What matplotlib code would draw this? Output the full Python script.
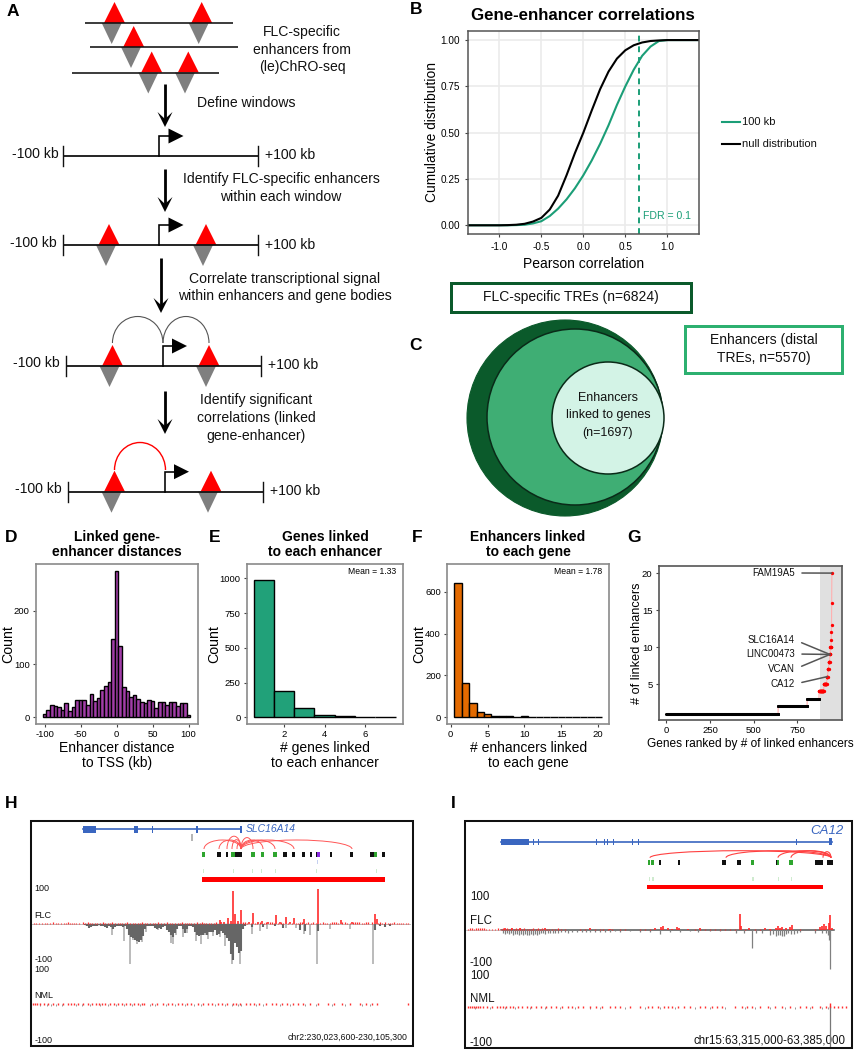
import numpy as np
import matplotlib
matplotlib.use("Agg")
import matplotlib.pyplot as plt
from matplotlib.patches import Arc, Circle, Polygon, Rectangle
from matplotlib.lines import Line2D

plt.rcParams['font.family'] = ['Liberation Sans', 'DejaVu Sans']
plt.rcParams['axes.unicode_minus'] = False

W, H = 856, 1050
PX = 0.72

# ---------- panel B ----------
corr_x = [-1.4,-1.3,-1.2,-1.1,-1.0,-0.9,-0.8,-0.7,-0.6,-0.5,-0.4,-0.3,-0.2,-0.1,0.0,0.1,0.2,0.3,0.4,0.5,0.6,0.7,0.8,0.9,1.0,1.1,1.2,1.3,1.4]
cdf_null = [0,0,0,0,0,0.001,0.003,0.008,0.02,0.04,0.085,0.16,0.27,0.39,0.50,0.62,0.735,0.83,0.90,0.945,0.972,0.987,0.995,0.998,1,1,1,1,1]
cdf_100kb = [0,0,0,0,0,0,0.001,0.003,0.01,0.022,0.05,0.09,0.14,0.20,0.27,0.35,0.44,0.54,0.65,0.75,0.84,0.915,0.965,0.995,1,1,1,1,1]
fdr_cut = 0.66
b_xticks = [-1.0,-0.5,0.0,0.5,1.0]
b_yticks = [0,0.25,0.5,0.75,1.0]

# ---------- panels D, E, F ----------
dist_bins = [-100,-95,-90,-85,-80,-75,-70,-65,-60,-55,-50,-45,-40,-35,-30,-25,-20,-15,-10,-5,0,5,10,15,20,25,30,35,40,45,50,55,60,65,70,75,80,85,90,95,100]
dist_counts = [7,13,23,21,19,14,26,12,19,33,33,32,24,44,30,37,52,59,66,147,274,133,57,50,39,42,35,28,26,33,31,17,28,28,24,29,28,22,27,27,5]
genes_per_enh_x = [1,2,3,4,5,6,7]
genes_per_enh = [990,192,65,18,8,2,1]
enh_per_gene_x = list(range(1,21))
enh_per_gene = [640,166,68,27,17,6,5,6,3,5,1,1,1,0,0,1,0,0,0,1]

# ---------- panel G ----------
g_labels = ["FAM19A5","SLC16A14","LINC00473","VCAN","CA12"]
g_label_y = [573,640,654,669,684]
g_label_val = [20,9,9,9,6]

# ---------- panel H tracks ----------
h_dark_x = [85,87,89,91,93,95,97,99,101,103,105,107,109,111,113,115,117,119,121,123,125,127,129,131,133,135,137,139,141,143,145,147,149,151,153,155,157,159,161,163,165,167,169,171,173,175,177,179,181,183,185,187,189,191,193,195,197,199,201,203,205,207,209,211,213,215,217,219,221,223,225,227,229,231,233,235,237,239,241,243,245,252,263,275,283,300,305,318,375,380,385,390]
h_dark_v = [3,5,10,8,6,4,5,3,6,5,8,10,6,9,12,8,6,5,5,8,6,12,28,34,38,42,45,48,42,32,12,6,5,5,6,10,12,10,12,8,6,16,22,28,34,24,12,6,6,14,24,14,6,6,8,20,28,32,28,28,24,30,20,22,22,16,30,26,18,24,30,36,45,80,95,50,60,75,70,12,5,8,8,6,10,15,18,18,15,6,8,4]
h_light_x = [112,124,130,133,137,139,142,146,158,171,173,176,183,187,196,201,205,208,213,220,225,228,232,237,240,252,260,267,286,296,304,310,317,330,350,373]
h_light_v = [28,46,105,42,52,40,48,20,16,50,52,30,35,24,44,52,30,40,32,35,57,38,105,60,105,26,18,14,10,10,26,30,105,12,12,105]
h_red_x = [220,224,228,233,235,241,253,262,276,286,294,304,318,341,352,375,377,221,231,238,249,258,268,280,290]
h_red_v = [10,6,16,88,26,37,29,8,25,18,15,13,92,10,6,26,12,4,8,7,5,5,6,6,5]
h_noise_x = [34,36,39,42,45,47,50,53,56,58,61,64,66,68,70,72,74,76,79,83,85,88,90,92,95,97,100,103,105,108,110,112,115,118,120,122,125,127,130,133,135,138,140,142,145,147,150,153,155,158,161,164,167,170,172,175,178,180,182,185,187,189,191,194,197,200,202,204,206,209,211,214,216,243,245,247,251,255,257,260,264,266,270,272,274,278,281,283,288,292,296,298,300,302,306,308,311,313,316,320,323,325,327,330,332,334,336,338,342,345,347,350,353,355,357,359,362,364,366,368,372,378,380,382,385,388,390,392,394,397,399,401,403,406,408]
h_noise_v = [2,2,3,2,2,3,2,4,2,2,3,3,2,5,3,3,2,2,3,4,3,5,2,3,2,2,3,4,2,3,2,5,2,2,3,3,2,4,2,3,2,2,3,4,2,3,2,2,3,5,2,3,4,2,2,3,3,2,5,2,2,3,3,3,4,3,6,3,3,2,2,3,5,4,4,3,3,3,3,4,3,4,5,4,3,3,4,3,3,3,3,3,5,4,3,4,3,5,3,3,4,3,3,3,4,5,4,3,4,4,3,3,5,5,4,6,3,3,4,4,5,3,4,3,5,3,3,3,4,3,3,3,2,3,3]
h_gene_exons = [(83.3,12.7,7),(134.3,4,7),(152,1.5,7),(196,1.6,7),(240,1.6,7)]
h_arcs = [(204,241),(219,241),(227,241),(232,241),(237,241),(241,253),(241,263),(241,275),(241,294),(241,352)]
h_ticks_green = [(203.7,2.5),(232,2.5),(234,3),(253,3.5),(262.7,3.5),(275,4.5),(376,3)]
h_ticks_black = [(219,4),(227,2.5),(237,3.5),(240.7,3.5),(285,4),(293.7,3),(303.7,2.5),(311,1.5),(316.5,1.5),(331,1.5),(351.7,2.5),(371.7,3.5),(374,2.5),(384,3)]
h_light_ticks = [203.7,234,252.7,262,276,317,376.7]
h_nml_red = [33,35,37,40,44,48,53,58,63,68,71,74,78,83,88,92,96,99,102,105,110,114,118,122,126,130,134,138,142,144,152,157,163,168,172,178,182,187,191,198,203,208,212,218,222,227,233,236,240,246,250,254,259,266,272,276,282,287,293,298,303,310,318,328,334,342,350,360,366,372,377,408]
h_nml_grey = [40,47,51,56,62,76,82,90,100,108,116,124,132,140,150,155,166,175,185,194,201,215,225,232,238,241,256,263,280,290,305,316,332,345,362,370]

# ---------- panel I tracks ----------
i_red_x = [740,830,741,829,826,792,790,786,776,778,780,700,663,661,655,688,679,677,749,782,820,822,824,832,765,770,668,672,610,590,545,520,512,505]
i_red_v = [42,40,10,18,10,14,8,6,7,10,5,6,12,8,6,4,5,8,7,9,8,12,15,7,5,4,6,4,4,5,5,6,6,5]
i_noise_x = [468,470,472,474,476,478,480,482,484,486,489,492,495,498,501,503,505,507,509,511,514,516,518,520,522,524,527,529,531,533,536,538,540,542,545,547,549,552,555,558,561,565,570,575,580,585,590,595,600,603,608,612,620,625,632,640,645,650,695,700,705,710,715,720,725,730,735,745,755,760,770,800,808,815,838,842,846]
i_noise_v = [4,5,5,4,6,5,6,5,5,4,3,4,3,5,4,6,4,5,4,6,4,5,4,6,4,5,4,4,3,5,4,6,4,5,4,4,3,3,3,5,3,3,2,2,3,3,2,3,3,3,3,4,3,3,2,3,3,4,3,3,3,3,3,3,3,3,4,3,4,3,3,3,2,3,2,2,1]
i_grey_x = [752,830,829,828,826,503,505,507,509,511,513,515,517,519,521,523,525,527,529,531,533,535,537,539,541,543,545,548,550,553,555,558,561,565,568,572,577,582,586,590,595,600,605,610,615,620,630,640,650,660,670,680,690,698,710,720,736,744,756,762,770,773,776,778,780,782,784,786,788,791,794,797,800,815,822]
i_grey_v = [45,100,24,12,8,7,9,7,9,8,11,9,10,12,10,11,10,12,12,10,13,10,11,9,8,7,9,6,7,7,6,8,5,5,6,4,4,4,5,5,4,5,4,4,3,4,3,4,4,10,4,4,3,4,3,3,6,8,6,6,12,10,14,12,12,14,14,10,8,9,10,6,4,6,8]
i_gene_exons = [(501,28,6),(533,1,6),(538,1,6),(596,1,6),(604,1.5,6),(607,1.5,6),(613.5,1,6),(632,1,6),(638,1,6),(796,1,6),(829,3,7)]
i_arcs = [(650,831),(726,831),(778,831),(791,831),(823,831)]
i_ticks_green = [(649,2.5),(652.7,2.5),(752.3,3),(778.5,2),(791,3.5)]
i_ticks_black = [(659.7,2),(679.3,2),(724,3.5),(739,4),(777.5,3.5),(818,5.5),(821,3.5),(830,6)]
i_light_ticks = [649.7,653,753,778.7,791.7]
i_nml_red = [468,470,472,474,476,478,480,483,487,492,497,500,503,506,510,513,518,522,527,531,536,541,546,551,556,562,568,572,578,583,590,596,602,610,615,620,630,640,648,652,658,664,668,672,678,684,690,700,705,712,717,722,735,742,747,752,760,768,775,782,790,800,806,812,820,826,830,834,838,842,846]
i_nml_grey = [475,490,505,515,530,545,560,575,590,600,625,645,660,675,695,710,725,745,755,770,785,795,810,822,828]

fig = plt.figure(figsize=(W/100, H/100), dpi=100)
ov = fig.add_axes([0,0,1,1], zorder=0)
ov.set_xlim(0,W); ov.set_ylim(H,0); ov.axis('off')

def T(x,y,s,size=10.1,ha='center',va='center',**k):
    return ov.text(x,y,s,fontsize=size,ha=ha,va=va,color=k.pop('color','#111111'),**k)

def axpx(x0,y0,x1,y1,zorder=2):
    return fig.add_axes([x0/W,1-y1/H,(x1-x0)/W,(y1-y0)/H],zorder=zorder)

# ---------- panel letters ----------
for s,x,y in [('A',12.5,11),('B',416,10),('C',416,346),('D',11,537),('E',215,537),('F',417,537),('G',634,537),('H',11,804),('I',453,804)]:
    T(x,y,s,size=12.5,fontweight='bold',color='black')

# ---------- panel A ----------
def tri(xc,y0,kind):
    if kind=='r':
        ov.add_patch(Polygon([(xc-10.5,y0),(xc+10.5,y0),(xc,y0-21)],color='#FF0000',lw=0,zorder=2))
    else:
        ov.add_patch(Polygon([(xc-10,y0),(xc+10,y0),(xc,y0+21)],color='#7F7F7F',lw=0,zorder=2))

def hl(x0,x1,y,lw=1.6,c='#111111'):
    ov.add_line(Line2D([x0,x1],[y,y],color=c,lw=lw*PX*1.0,zorder=3,solid_capstyle='butt'))

def down_arrow(x,y0,y1):
    ov.add_line(Line2D([x,x],[y0,y1-6],color='black',lw=2.8*PX,solid_capstyle='butt',zorder=4))
    ov.add_patch(Polygon([(x,y1),(x-7.5,y1-15),(x,y1-8),(x+7.5,y1-15)],color='black',lw=0,zorder=4))

def tss(x,y0,ytop):
    ov.add_line(Line2D([x,x,x+10],[y0,ytop,ytop],color='black',lw=1.6*PX,solid_joinstyle='miter',zorder=4))
    ov.add_patch(Polygon([(x+9,ytop-7.5),(x+9,ytop+7.5),(x+24,ytop)],color='black',lw=0,zorder=4))

def row(x0,x1,y,xt,ytop,reds,lab_l,lab_r):
    hl(x0,x1,y,lw=1.8)
    for xx in (x0,x1):
        ov.add_line(Line2D([xx,xx],[y-10,y+10],color='#111111',lw=1.4*PX,zorder=3))
    tss(xt,y,ytop)
    for r in reds:
        tri(r,y,'r'); tri(r-3,y,'g')
    T(lab_l[0],lab_l[1],'-100 kb',ha='right')
    T(lab_r[0],lab_r[1],'+100 kb',ha='left')

tri(114.5,23,'r'); tri(201.7,23,'r'); tri(111.7,23,'g'); tri(198.7,23,'g'); hl(85.5,233,23)
tri(133.7,47,'r'); tri(131,47,'g'); hl(90,238,47)
tri(151.7,72.5,'r'); tri(188.3,72.5,'r'); tri(148.3,72.5,'g'); tri(185,72.5,'g'); hl(72,219.5,72.5)
T(302,32,'FLC-specific'); T(302,50,'enhancers from'); T(302,67,'(le)ChRO-seq')
down_arrow(165,84,127); T(246.6,103,'Define windows')
row(63,258,156,159.5,136,[],(59,154),(265,155))
down_arrow(165,169,212)
T(281,179,'Identify FLC-specific enhancers'); T(281,197,'within each window')
row(63,258,245,159.5,225,[109,206],(57,243),(265,245))
down_arrow(161,258,313)
T(285,279,'Correlate transcriptional signal'); T(285,296,'within enhancers and gene bodies')
row(65.7,261,366,163,346,[112.5,209],(60,363),(268,365))
ov.add_patch(Arc((137.7,343),50.5,53,theta1=180,theta2=360,color='#555555',lw=0.8,zorder=3))
ov.add_patch(Arc((186,343),46,53,theta1=180,theta2=360,color='#555555',lw=0.8,zorder=3))
down_arrow(165,391,434)
T(256.5,400,'Identify significant'); T(256.5,418,'correlations (linked'); T(256.5,436,'gene-enhancer)')
row(67.7,263,491.7,165,471.7,[114.5,211],(62,489),(270,491))
ov.add_patch(Arc((140,470),51,55,theta1=180,theta2=360,color='#FF0000',lw=1.0,zorder=3))

# ---------- panel B ----------
GREEN='#1B9E77'
axb = axpx(468,31,699,234)
axb.set_xlim(-1.373,1.377); axb.set_ylim(-0.047,1.049)
axb.grid(True,color='#EBEBEB',lw=1.2); axb.set_axisbelow(True)
axb.plot(corr_x,cdf_100kb,color=GREEN,lw=1.5)
axb.plot(corr_x,cdf_null,color='black',lw=1.5)
axb.axvline(fdr_cut,color=GREEN,lw=1.4,ls=(0,(3,2.5)))
axb.text(0.71,0.048,'FDR = 0.1',color=GREEN,fontsize=7.6,va='center',ha='left')
axb.set_xticks(b_xticks); axb.set_xticklabels(['-1.0','-0.5','0.0','0.5','1.0'])
axb.set_yticks(b_yticks); axb.set_yticklabels(['0.00','0.25','0.50','0.75','1.00'])
axb.tick_params(labelsize=7.2,length=2.5,width=0.8,color='#444444',pad=3)
for s in axb.spines.values(): s.set_color('#555555'); s.set_linewidth(1.1)
axb.set_xlabel('Pearson correlation',fontsize=10)
axb.xaxis.set_label_coords(0.5,-0.115)
axb.set_ylabel('Cumulative distribution',fontsize=9.9)
axb.yaxis.set_label_coords(-0.125,0.5)
T(583,15,'Gene-enhancer correlations',size=12.2,fontweight='bold',color='black')
ov.add_line(Line2D([722,740],[122,122],color=GREEN,lw=1.5))
ov.add_line(Line2D([722,740],[144,144],color='black',lw=1.5))
T(742,122,'100 kb',size=8,ha='left'); T(742,144,'null distribution',size=8,ha='left')

# ---------- panel C ----------
DK='#0B5A2B'; MID='#3FAE74'; LT='#D3F3E6'
ov.add_patch(Rectangle((451,283),240,29,fc='white',ec=DK,lw=3*PX))
T(571,297.5,'FLC-specific TREs (n=6824)',size=10)
ov.add_patch(Rectangle((685,326),157,47,fc='white',ec='#2DB070',lw=3*PX))
T(763.5,340,'Enhancers (distal',size=10); T(763.5,358,'TREs, n=5570)',size=10)
ov.add_patch(Circle((565,418),98,fc=DK,ec=DK,lw=0.8,zorder=1))
ov.add_patch(Circle((575,417),88,fc=MID,ec='#0A2A18',lw=1.1,zorder=1.1))
ov.add_patch(Circle((608,418),56,fc=LT,ec='#0A2A18',lw=1.1,zorder=1.2))
T(608,398,'Enhancers',size=9,zorder=5); T(608,415,'linked to genes',size=9,zorder=5); T(608,433,'(n=1697)',size=9,zorder=5)

# ---------- panels D E F G ----------
def style(ax):
    for s in ax.spines.values(): s.set_color('#8A8A8A'); s.set_linewidth(1.2)
    ax.tick_params(labelsize=6.8,length=2.5,width=0.8,color='#444444',pad=2)

TS = 10
axd = axpx(36,564,198,724)
axd.bar(dist_bins,dist_counts,width=5,color='#A23DA8',edgecolor='black',linewidth=1.0)
axd.set_xlim(-112,113); axd.set_ylim(-12.5,287.6)
axd.set_xticks([-100,-50,0,50,100]); axd.set_yticks([0,100,200]); style(axd)
axd.set_xlabel('Enhancer distance\nto TSS (kb)',fontsize=10,linespacing=1.14)
axd.xaxis.set_label_coords(0.5,-0.105)
axd.set_ylabel('Count',fontsize=10.2); axd.yaxis.set_label_coords(-0.13,0.5)
T(117,537,'Linked gene-',size=TS,fontweight='bold',color='black'); T(117,552,'enhancer distances',size=TS,fontweight='bold',color='black')

axe = axpx(247,564,403.3,724)
axe.bar(genes_per_enh_x,genes_per_enh,width=1,color='#21A179',edgecolor='black',linewidth=1.0)
axe.set_xlim(0.18,7.87); axe.set_ylim(-48,1103)
axe.set_xticks([2,4,6]); axe.set_yticks([0,250,500,750,1000]); style(axe)
axe.set_xlabel('# genes linked\nto each enhancer',fontsize=10,linespacing=1.14)
axe.xaxis.set_label_coords(0.5,-0.105)
axe.set_ylabel('Count',fontsize=10.2); axe.yaxis.set_label_coords(-0.166,0.5)
axe.text(0.957,0.955,'Mean = 1.33',transform=axe.transAxes,ha='right',va='center',fontsize=6.2)
T(325,537,'Genes linked',size=TS,fontweight='bold',color='black'); T(325,552,'to each enhancer',size=TS,fontweight='bold',color='black')

axf = axpx(447.3,564,609.3,724)
axf.bar(enh_per_gene_x,enh_per_gene,width=1,color='#E36A00',edgecolor='black',linewidth=1.0)
axf.set_xlim(-0.46,21.5); axf.set_ylim(-32,732)
axf.set_xticks([0,5,10,15,20]); axf.set_yticks([0,200,400,600]); style(axf)
axf.set_xlabel('# enhancers linked\nto each gene',fontsize=10,linespacing=1.14)
axf.xaxis.set_label_coords(0.5,-0.105)
axf.set_ylabel('Count',fontsize=10.2); axf.yaxis.set_label_coords(-0.132,0.5)
axf.text(0.957,0.955,'Mean = 1.78',transform=axf.transAxes,ha='right',va='center',fontsize=6.2)
T(528,537,'Enhancers linked',size=TS,fontweight='bold',color='black'); T(528,552,'to each gene',size=TS,fontweight='bold',color='black')

axg = axpx(658.7,565.7,842,720)
vals = np.repeat(enh_per_gene_x,enh_per_gene)
ranks = np.arange(len(vals))
axg.axvspan(880,1005,color='#E0E0E0',lw=0,zorder=0)
axg.plot(ranks,vals,color='#FFB0B0',lw=0.8,zorder=1)
is_top = vals>=4
axg.plot(ranks[~is_top],vals[~is_top],ls='none',marker='o',ms=2.2,mew=0,color='black',zorder=2)
axg.plot(ranks[is_top],vals[is_top],ls='none',marker='o',ms=2.4,mew=0,color='#FF0000',zorder=3)
axg.set_xlim(-44,1005); axg.set_ylim(0.135,21)
axg.set_xticks([0,250,500,750]); axg.set_yticks([5,10,15,20]); style(axg)
for s in axg.spines.values(): s.set_color('#555555')
axg.set_xlabel('Genes ranked by # of linked enhancers',fontsize=8.6)
axg.xaxis.set_label_coords(0.5,-0.117)
axg.set_ylabel('# of linked enhancers',fontsize=9.2); axg.yaxis.set_label_coords(-0.085,0.5)
for lab,py,v in zip(g_labels,g_label_y,g_label_val):
    xv = ranks[vals==v].mean()
    axg.annotate(lab,xy=(xv,v),xycoords='data',xytext=(795,H-py),textcoords='figure pixels',
                 ha='right',va='center',fontsize=7.0,color='#111111',
                 arrowprops=dict(arrowstyle='-',color='#555555',lw=1.1,shrinkA=3,shrinkB=0,relpos=(1,0.5)),zorder=5)

# ---------- genome browser panels ----------
BLUE='#3A66C0'
def track_ax(x0,x1,y0,y1,zero_px,unit):
    ax = axpx(x0,y0,x1,y1,zorder=3)
    ax.set_xlim(x0,x1)
    ax.set_ylim((zero_px-y1)/unit,(zero_px-y0)/unit)
    ax.axis('off'); ax.patch.set_alpha(0)
    return ax

# H
ov.add_patch(Rectangle((31,821),382,224.7,fc='white',ec='#111111',lw=1.7*PX*1.2,zorder=1))
ov.add_line(Line2D([83.3,240.7],[829,829],color=BLUE,lw=1.2,zorder=2))
for x,w,h in h_gene_exons:
    ov.add_patch(Rectangle((x,829-h/2),w,h,fc=BLUE,ec='none',zorder=2))
T(246,829,'SLC16A14',size=7.5,ha='left',style='italic',color=BLUE)
ov.add_patch(Rectangle((191.5,834),1.6,7,fc='#B5B5B5',ec='none'))
for a,b in h_arcs:
    ht = 18 if b-a>20 else 2.0*(b-a)*0.7+6
    ov.add_patch(Arc(((a+b)/2,849),b-a,ht,theta1=180,theta2=360,color='#FF5555',lw=0.7,zorder=2))
for x,w in h_ticks_black: ov.add_patch(Rectangle((x-w/2,851.5),w,5,fc='#111111',ec='none',zorder=2))
for x,w in h_ticks_green: ov.add_patch(Rectangle((x-w/2,851.5),w,5,fc='#2FA52F',ec='none',zorder=2))
ov.add_patch(Rectangle((316.7,851.5),3.5,5,fc='#8A2BE2',ec='none',zorder=2))
ov.add_patch(Rectangle((317.4,860),0.9,4,fc='#C5D0F0',ec='none',zorder=2))
for x in h_light_ticks: ov.add_patch(Rectangle((x-0.5,868.5),1,4.5,fc='#CFEBCF',ec='none',zorder=2))
ov.add_patch(Rectangle((202.3,877),183,4.5,fc='#FF0000',ec='none',zorder=2))
for s,y in [('100',888.7),('-100',959),('100',970),('-100',1040.7)]:
    T(34.5,y,s,size=6.5,ha='left',zorder=5)
T(34,915,'FLC',size=6.5,ha='left',zorder=5); T(34,996,'NML',size=6.5,ha='left',zorder=5)
T(408,1037,'chr2:230,023,600-230,105,300',size=6.3,ha='right',zorder=5)

axh1 = track_ax(32,411,886,966,924,0.38)
axh1.plot([32,411],[0,0],color='#BDBDBD',lw=0.7)
axh1.plot([85,245],[0,0],color='#666666',lw=1.0)
axh1.vlines(h_light_x,0,-np.array(h_light_v),color='#A8A8A8',lw=1.1)
axh1.vlines(h_dark_x,0,-np.array(h_dark_v),color='#666666',lw=1.5)
axh1.vlines(h_noise_x,0,h_noise_v,color='#FF2A2A',lw=0.9)
axh1.vlines(h_red_x,0,h_red_v,color='#FF2A2A',lw=1.2)
axh2 = track_ax(32,411,970,1044,1004,0.38)
axh2.vlines(h_nml_grey,-5,0,color='#999999',lw=0.7)
axh2.vlines(h_nml_red,-2,2.5,color='#FF3030',lw=1.0)

# I
ov.add_patch(Rectangle((465,820.7),386.7,227,fc='white',ec='#111111',lw=1.7*PX*1.2,zorder=1))
ov.add_line(Line2D([501,831.7],[841.7,841.7],color=BLUE,lw=1.2,zorder=2))
for x,w,h in i_gene_exons:
    ov.add_patch(Rectangle((x,841.7-h/2),w,h,fc=BLUE,ec='none',zorder=2))
T(844,830.7,'CA12',size=9.5,ha='right',style='italic',color=BLUE)
for a,b in i_arcs:
    ht = 14 if b-a>12 else 12
    ov.add_patch(Arc(((a+b)/2,857.7),b-a,ht,theta1=180,theta2=360,color='#FF4040',lw=0.8,zorder=2))
for x,w in i_ticks_black: ov.add_patch(Rectangle((x-w/2,860.2),w,5,fc='#111111',ec='none',zorder=2))
for x,w in i_ticks_green: ov.add_patch(Rectangle((x-w/2,860.2),w,5,fc='#2FA52F',ec='none',zorder=2))
for x in i_light_ticks: ov.add_patch(Rectangle((x-0.5,876.5),1.2,4.5,fc='#CFEBCF',ec='none',zorder=2))
ov.add_patch(Rectangle((647.3,884.7),175.4,4.5,fc='#FF0000',ec='none',zorder=2))
for s,y in [('100',897),('-100',963),('100',975.7),('-100',1042.7)]:
    T(470,y,s,size=8.3,ha='left',zorder=5)
T(470,920.7,'FLC',size=8.3,ha='left',zorder=5); T(470,999,'NML',size=8.3,ha='left',zorder=5)
T(846,1040.7,'chr15:63,315,000-63,385,000',size=8.3,ha='right',zorder=5)

axi1 = track_ax(466,851,891,971,930.3,0.39)
axi1.plot([501,834],[0,0],color='#555555',lw=1.1)
axi1.plot([466,501],[0,0],color='#BBBBBB',lw=0.6)
axi1.vlines(i_grey_x,0,-np.array(i_grey_v),color='#808080',lw=0.9)
axi1.vlines(i_noise_x,0,i_noise_v,color='#FF2A2A',lw=0.9)
axi1.vlines(i_red_x,0,i_red_v,color='#FF2A2A',lw=1.2)
axi2 = track_ax(466,851,975,1047,1007,0.39)
axi2.vlines(i_nml_grey,-4,0,color='#999999',lw=0.7)
axi2.vlines(i_nml_red,-2,2.5,color='#FF3030',lw=1.0)
axi2.vlines([829.7],-103,0,color='#777777',lw=0.9)
axi2.vlines([830],0,10,color='#FF2A2A',lw=1)

fig.savefig('out.png',dpi=100)
